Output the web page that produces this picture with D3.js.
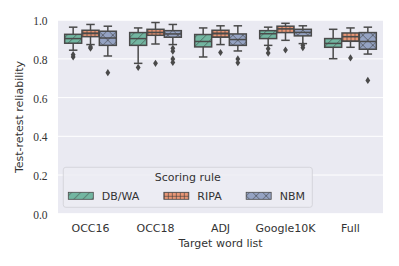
<!DOCTYPE html>
<html>
<head>
<meta charset="utf-8">
<script src="https://cdn.jsdelivr.net/npm/d3@7"></script>
<style>
  html, body { margin: 0; padding: 0; background: #fff; overflow: hidden; }
  svg { display: block; }
  text { font-family: "DejaVu Sans", sans-serif; fill: #333; }
</style>
</head>
<body>
<div id="chart"></div>
<script>

// ---- data ----
const wordLists = ["OCC16", "OCC18", "ADJ", "Google10K", "Full"];
const rules = ["DB/WA", "RIPA", "NBM"];
const yTicks = [0, 0.2, 0.4, 0.6, 0.8, 1.0];

// [lower whisker, q1, median, q3, upper whisker] per word list
const dbwaStats = [
  [0.845, 0.881, 0.905, 0.927, 0.964],
  [0.777, 0.870, 0.905, 0.936, 0.960],
  [0.810, 0.862, 0.890, 0.926, 0.960],
  [0.870, 0.905, 0.930, 0.946, 0.964],
  [0.801, 0.860, 0.880, 0.905, 0.953]
];
const ripaStats = [
  [0.874, 0.915, 0.931, 0.948, 0.978],
  [0.877, 0.922, 0.937, 0.953, 0.988],
  [0.874, 0.912, 0.930, 0.948, 0.971],
  [0.896, 0.936, 0.955, 0.969, 0.984],
  [0.860, 0.891, 0.915, 0.934, 0.960]
];
const nbmStats = [
  [0.815, 0.870, 0.908, 0.943, 0.969],
  [0.874, 0.912, 0.929, 0.946, 0.978],
  [0.841, 0.870, 0.900, 0.929, 0.971],
  [0.879, 0.919, 0.937, 0.953, 0.971],
  [0.825, 0.850, 0.890, 0.936, 0.964]
];

const dbwaOutliers = [[0.810, 0.822], [0.756], [], [0.853, 0.830], []];
const ripaOutliers = [[0.855, 0.862], [0.777], [0.833], [0.846], [0.805]];
const nbmOutliers  = [[0.729], [0.855, 0.840, 0.800, 0.782], [0.800, 0.780], [0.870, 0.858], [0.689]];

const ruleColors = ["#72b6a1", "#e99675", "#95a3c3"];

// ---- layout ----
const width = 399, height = 266;
const margin = { top: 20.2, right: 16, bottom: 52.3, left: 58 };
const innerWidth = width - margin.left - margin.right;
const innerHeight = height - margin.top - margin.bottom;
const edgeColor = "#4a4a4a";

const svg = d3.select("#chart")
  .append("svg")
    .attr("width", width)
    .attr("height", height);

// hatch patterns, one per scoring rule
const defs = svg.append("defs");

const makePattern = (id, fill, size, lines) => {
  const p = defs.append("pattern")
      .attr("id", id)
      .attr("patternUnits", "userSpaceOnUse")
      .attr("width", size)
      .attr("height", size);
  p.append("rect")
      .attr("width", size)
      .attr("height", size)
      .attr("fill", fill);
  lines.forEach(l => {
    p.append("line")
        .attr("x1", l[0]).attr("y1", l[1])
        .attr("x2", l[2]).attr("y2", l[3])
        .attr("stroke", "#3a3a3a")
        .attr("stroke-opacity", 0.75)
        .attr("stroke-width", 0.8);
  });
};

makePattern("hatch0", ruleColors[0], 9, [[-1, 10, 10, -1], [-1, 1, 1, -1], [8, 10, 10, 8]]);
makePattern("hatch1", ruleColors[1], 4, [[0, 0.5, 4, 0.5], [0.5, 0, 0.5, 4]]);
makePattern("hatch2", ruleColors[2], 10, [[0, 0, 10, 10], [0, 10, 10, 0]]);

const innerChart = svg
  .append("g")
    .attr("transform", `translate(${margin.left}, ${margin.top})`);

// scales
const xScale = d3.scaleBand()
  .domain(wordLists)
  .range([0, innerWidth]);

const hueScale = d3.scaleBand()
  .domain(rules)
  .range([xScale.bandwidth() * 0.1, xScale.bandwidth() * 0.9]);

const yScale = d3.scaleLinear()
  .domain([0, 1])
  .range([innerHeight, 0]);

// background + grid
innerChart
  .append("rect")
    .attr("width", innerWidth)
    .attr("height", innerHeight)
    .attr("fill", "#eaeaf2");

innerChart
  .selectAll(".grid")
  .data(yTicks)
  .join("line")
    .attr("class", "grid")
    .attr("x1", 0)
    .attr("x2", innerWidth)
    .attr("y1", d => yScale(d))
    .attr("y2", d => yScale(d))
    .attr("stroke", "#fff")
    .attr("stroke-width", 1);

// y tick labels (serif, like the LaTeX ones)
innerChart
  .selectAll(".ytick")
  .data(yTicks)
  .join("text")
    .attr("class", "ytick")
    .attr("x", -10.5)
    .attr("y", d => yScale(d) + 1)
    .attr("dy", "0.35em")
    .attr("text-anchor", "end")
    .style("font-family", "'Liberation Serif', serif")
    .style("font-size", "11.5px")
    .text(d3.format(".1f"));

// x tick labels
innerChart
  .selectAll(".xtick")
  .data(wordLists)
  .join("text")
    .attr("class", "xtick")
    .attr("x", d => xScale(d) + xScale.bandwidth() / 2)
    .attr("y", innerHeight + 14)
    .attr("dy", "0.35em")
    .attr("text-anchor", "middle")
    .style("font-size", "11px")
    .text(d => d);

// axis titles
innerChart
  .append("text")
    .attr("x", innerWidth / 2)
    .attr("y", innerHeight + 29)
    .attr("dy", "0.35em")
    .attr("text-anchor", "middle")
    .style("font-size", "11px")
    .text("Target word list");

innerChart
  .append("text")
    .attr("transform", `translate(${19.5 - margin.left}, ${innerHeight / 2}) rotate(-90)`)
    .attr("dy", "0.35em")
    .attr("text-anchor", "middle")
    .style("font-size", "11px")
    .text("Test-retest reliability");

// ---- boxes ----
const allStats = [dbwaStats, ripaStats, nbmStats];
const allOutliers = [dbwaOutliers, ripaOutliers, nbmOutliers];

const boxData = [];
rules.forEach((rule, r) => {
  wordLists.forEach((list, i) => {
    const [lo, q1, med, q3, hi] = allStats[r][i];
    boxData.push({ rule, r, list, lo, q1, med, q3, hi, out: allOutliers[r][i] });
  });
});

const boxW = hueScale.bandwidth() * 0.98;
const capW = boxW / 2;

const boxes = innerChart
  .selectAll(".box")
  .data(boxData)
  .join("g")
    .attr("class", "box")
    .attr("transform", d => `translate(${xScale(d.list) + hueScale(d.rule) + hueScale.bandwidth() / 2}, 0)`);

// whiskers
boxes.append("line")
    .attr("y1", d => yScale(d.q3))
    .attr("y2", d => yScale(d.hi))
    .attr("stroke", edgeColor)
    .attr("stroke-width", 1.5);

boxes.append("line")
    .attr("y1", d => yScale(d.q1))
    .attr("y2", d => yScale(d.lo))
    .attr("stroke", edgeColor)
    .attr("stroke-width", 1.5);

// caps
["hi", "lo"].forEach(k => {
  boxes.append("line")
      .attr("x1", -capW / 2)
      .attr("x2", capW / 2)
      .attr("y1", d => yScale(d[k]))
      .attr("y2", d => yScale(d[k]))
      .attr("stroke", edgeColor)
      .attr("stroke-width", 1.5);
});

boxes.append("rect")
    .attr("x", -boxW / 2)
    .attr("width", boxW)
    .attr("y", d => yScale(d.q3))
    .attr("height", d => yScale(d.q1) - yScale(d.q3))
    .attr("fill", d => `url(#hatch${d.r})`)
    .attr("stroke", edgeColor)
    .attr("stroke-width", 1.5);

// medians
boxes.append("line")
    .attr("x1", -boxW / 2)
    .attr("x2", boxW / 2)
    .attr("y1", d => yScale(d.med))
    .attr("y2", d => yScale(d.med))
    .attr("stroke", edgeColor)
    .attr("stroke-width", 1.5);

// outliers as thin diamonds
boxes.selectAll(".flier")
  .data(d => d.out)
  .join("path")
    .attr("class", "flier")
    .attr("d", v => {
      const y = yScale(v);
      return `M0,${y - 3.6}L2.4,${y}L0,${y + 3.6}L-2.4,${y}Z`;
    })
    .attr("fill", edgeColor);

// ---- legend ----
const legend = innerChart
  .append("g")
    .attr("transform", `translate(${63.3 - margin.left}, ${167.3 - margin.top})`);

legend.append("rect")
    .attr("width", 249)
    .attr("height", 40)
    .attr("rx", 2.5)
    .attr("fill", "#ececf3")
    .attr("fill-opacity", 0.8)
    .attr("stroke", "#cfcfd6")
    .attr("stroke-width", 0.8);

legend.append("text")
    .attr("x", 124.5)
    .attr("y", 10)
    .attr("dy", "0.35em")
    .attr("text-anchor", "middle")
    .style("font-size", "11px")
    .text("Scoring rule");

let cursor = 5;
rules.forEach((rule, r) => {
  const item = legend.append("g")
      .attr("transform", `translate(${cursor}, 28.5)`);
  item.append("rect")
      .attr("y", -3.5)
      .attr("width", 25)
      .attr("height", 7)
      .attr("fill", `url(#hatch${r})`)
      .attr("stroke", edgeColor)
      .attr("stroke-width", 0.8);
  const label = item.append("text")
      .attr("x", 33.5)
      .attr("dy", "0.35em")
      .style("font-size", "11px")
      .text(rule);
  cursor += 33.5 + label.node().getComputedTextLength() + 24.5;
});

</script>
</body>
</html>
